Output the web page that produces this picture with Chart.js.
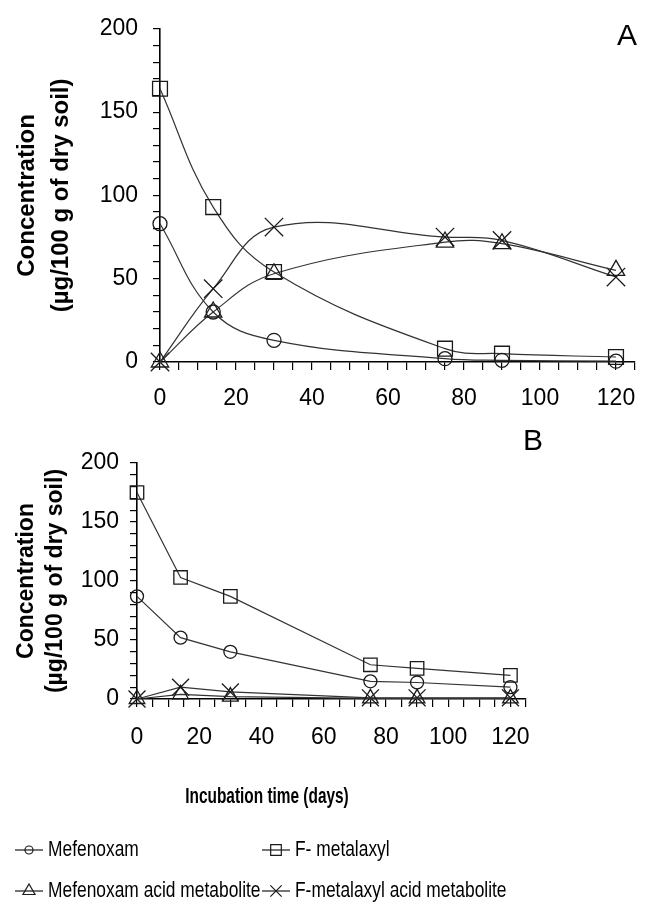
<!DOCTYPE html>
<html>
<head>
<meta charset="utf-8">
<script src="https://cdn.jsdelivr.net/npm/chart.js@4.4.1/dist/chart.umd.min.js"></script>
<style>
  body { margin: 0; background: #fff; }
  #wrapA { position: absolute; left: 0; top: 0; width: 661px; height: 420px; }
  #wrapB { position: absolute; left: 0; top: 420px; width: 661px; height: 495px; }
</style>
</head>
<body>
<div id="wrapA"><canvas id="chartA"></canvas></div>
<div id="wrapB"><canvas id="chartB"></canvas></div>
<script>
"use strict"

/* Data */
let days = [0, 14, 30, 75, 90, 120];
let seriesNames = ["Mefenoxam", "F- metalaxyl", "Mefenoxam acid metabolite", "F-metalaxyl acid metabolite"];

// panel A
let mefenoxamA = [83, 30, 13, 2, 1, 0.5];
let metalaxylA = [164, 93, 54, 8, 5, 3];
let mefAcidA = [0, 30, 53, 72, 71, 55];
let metAcidA = [0, 44, 81, 75, 73, 51];

// panel B
let mefenoxamB = [87, 52, 40, 15, 14, 10];
let metalaxylB = [175, 103, 87, 29, 26, 20];
let mefAcidB = [0, 4, 2, 0.5, 0.5, 0.5];
let metAcidB = [0, 10, 6, 1, 1, 1];

let yTitle = ["Concentration", "(µg/100 g of dry soil)"];
let xTitle = "Incubation time (days)";


/* Styles */
let sans = "'Liberation Sans', Arial, sans-serif";
let lineColor = "#333";
let markColor = "#1a1a1a";
let pointStyles = ["circle", "rect", "triangle", "crossRot"];


function makeDatasets(values, tension, sizes) {
    return values.map((vals, i) => ({
        label: seriesNames[i],
        data: vals.map((v, j) => ({ x: days[j], y: v })),
        borderColor: lineColor,
        borderWidth: 1.2,
        tension: tension,
        pointStyle: pointStyles[i],
        pointRadius: sizes[i],
        pointHoverRadius: sizes[i],
        pointBorderColor: markColor,
        pointBorderWidth: 1.3,
        pointBackgroundColor: "rgba(0,0,0,0)",
        clip: false
    }));
}


function makeScales(o) {
    return {
        x: {
            type: "linear",
            min: 0,
            max: 125,
            afterFit: s => { s.height = o.xHeight; },
            border: { color: "#000", width: 1.6 },
            grid: { drawOnChartArea: false, color: "#000", tickLength: 8, lineWidth: 1.2 },
            ticks: {
                stepSize: 5,
                autoSkip: false,
                maxRotation: 0,
                padding: o.xPad,
                color: "#000",
                font: { family: sans, size: 23 },
                callback: v => v % 20 === 0 ? v : ""
            }
        },
        y: {
            min: 0,
            max: 200,
            afterFit: s => { s.width = o.yWidth; },
            border: { color: "#000", width: 1.6 },
            grid: { drawOnChartArea: false, color: "#000", tickLength: 7, lineWidth: 1.2 },
            ticks: {
                stepSize: 10,
                autoSkip: false,
                padding: o.yPad,
                color: "#000",
                font: { family: sans, size: 23 },
                callback: v => v % 50 === 0 ? v : ""
            },
            title: {
                display: true,
                text: yTitle,
                color: "#000",
                font: { family: sans, size: o.titleSize, weight: "bold", lineHeight: o.titleLH },
                padding: { top: o.titlePad, bottom: 0 }
            }
        }
    };
}


// text squeezed sideways, like the narrow face of the original
function narrowText(ctx, text, x, y, sx) {
    ctx.save();
    ctx.translate(x, y);
    ctx.scale(sx, 1);
    ctx.fillText(text, 0, 0);
    ctx.restore();
}


const panelLabel = {
    id: "panelLabel",
    afterDraw(chart, args, opts) {
        const ctx = chart.ctx;
        ctx.save();
        ctx.fillStyle = "#000";
        ctx.font = "30px " + sans;
        ctx.textAlign = "center";
        ctx.textBaseline = "middle";
        ctx.fillText(opts.text, opts.x, opts.y);
        ctx.restore();
    }
};


let legendSizes = [4, 7.5, 7, 8];

const bottomLegend = {
    id: "bottomLegend",
    afterDraw(chart) {
        const ctx = chart.ctx;
        ctx.save();
        ctx.fillStyle = "#000";
        ctx.font = "bold 22px " + sans;
        ctx.textAlign = "center";
        ctx.textBaseline = "middle";
        narrowText(ctx, xTitle, 267, 377, 0.7);

        ctx.font = "22px " + sans;
        ctx.textAlign = "left";
        chart.data.datasets.forEach((ds, i) => {
            let x0 = i % 2 ? 262 : 15;
            let y = i < 2 ? 430 : 471;
            ctx.strokeStyle = markColor;
            ctx.lineWidth = 1.2;
            ctx.beginPath();
            ctx.moveTo(x0, y);
            ctx.lineTo(x0 + 28, y);
            ctx.stroke();
            ctx.fillStyle = "rgba(0,0,0,0)";
            Chart.helpers.drawPoint(ctx, { pointStyle: ds.pointStyle, radius: legendSizes[i], borderWidth: 1.2, rotation: 0 }, x0 + 14, y);
            ctx.fillStyle = "#000";
            narrowText(ctx, ds.label, x0 + 33, y, 0.79);
        });
        ctx.restore();
    }
};


function createChart(id, datasets, scaleOpts, padding, label, extraPlugins) {
    return new Chart(document.getElementById(id).getContext("2d"), {
        type: "line",
        data: { datasets: datasets },
        options: {
            animation: false,
            maintainAspectRatio: false,
            events: [],
            layout: { padding: padding },
            scales: makeScales(scaleOpts),
            plugins: {
                legend: { display: false },
                tooltip: { enabled: false },
                panelLabel: label
            }
        },
        plugins: [panelLabel].concat(extraPlugins)
    });
}


createChart("chartA",
    makeDatasets([mefenoxamA, metalaxylA, mefAcidA, metAcidA], 0.4, [7, 10.5, 10, 13]),
    { xHeight: 58, xPad: 15, yWidth: 160, yPad: 15, titleSize: 24, titleLH: 1.42, titlePad: 10 },
    { left: 0, right: 26, top: 27, bottom: 0 },
    { text: "A", x: 627, y: 37 },
    []);

createChart("chartB",
    makeDatasets([mefenoxamB, metalaxylB, mefAcidB, metAcidB], 0, [6.5, 9.5, 9, 12]),
    { xHeight: 116, xPad: 17, yWidth: 137, yPad: 11, titleSize: 23, titleLH: 1.26, titlePad: 12.5 },
    { left: 0, right: 135, top: 43, bottom: 100 },
    { text: "B", x: 533, y: 22 },
    [bottomLegend]);
</script>
</body>
</html>
